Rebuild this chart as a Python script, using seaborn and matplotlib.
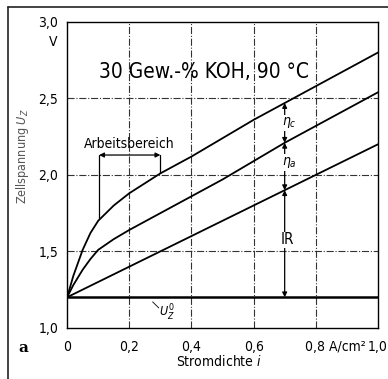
import matplotlib
matplotlib.use('Agg')
import matplotlib.pyplot as plt
import seaborn as sns
import pandas as pd

# Stromdichte i in A/cm2 und Zellspannungen in V
i_vals = [0, 0.02, 0.05, 0.075, 0.1, 0.15, 0.2, 0.3, 0.4, 0.5, 0.6, 0.7, 0.8, 0.9, 1.0]
u_total = [1.2, 1.34, 1.51, 1.62, 1.70, 1.80, 1.88, 2.01, 2.12, 2.24, 2.36, 2.47, 2.58, 2.69, 2.80]
u_anode = [1.2, 1.28, 1.38, 1.45, 1.51, 1.58, 1.64, 1.75, 1.86, 1.97, 2.09, 2.21, 2.32, 2.43, 2.54]
u_ir = [1.2, 1.22, 1.25, 1.275, 1.30, 1.35, 1.40, 1.50, 1.60, 1.70, 1.80, 1.90, 2.00, 2.10, 2.20]
u_rev = [1.2, 1.2, 1.2, 1.2, 1.2, 1.2, 1.2, 1.2, 1.2, 1.2, 1.2, 1.2, 1.2, 1.2, 1.2]

x_ticks = [0, 0.2, 0.4, 0.6, 0.8, 1.0]
x_ticklabels = ['0', '0,2', '0,4', '0,6', '', '1,0']
y_ticks = [1.0, 1.5, 2.0, 2.5, 3.0]
y_ticklabels = ['1,0', '1,5', '2,0', '2,5', '3,0']

sns.set_style('white')
plt.rcParams['font.family'] = ['DejaVu Sans']
plt.rcParams['font.stretch'] = 'condensed'
plt.rcParams['mathtext.fontset'] = 'dejavusans'
plt.rcParams['text.color'] = 'black'
plt.rcParams['xtick.color'] = 'black'
plt.rcParams['ytick.color'] = 'black'

df = pd.DataFrame({'i': i_vals, 'total': u_total, 'anode': u_anode,
                   'ir': u_ir, 'rev': u_rev})

fig = plt.figure(figsize=(3.88, 3.79), dpi=100)
ax = fig.add_axes([0.173, 0.135, 0.801, 0.807])

# Gitterlinien
for gx in [0.2, 0.4, 0.6, 0.8]:
    ax.axvline(gx, color='#333333', lw=0.8, ls='-.', zorder=1)
for gy in [1.5, 2.0, 2.5]:
    ax.axhline(gy, color='#333333', lw=0.8, ls='-.', zorder=1)

sns.lineplot(data=df, x='i', y='total', color='black', lw=1.3, ax=ax, zorder=3)
sns.lineplot(data=df, x='i', y='anode', color='black', lw=1.3, ax=ax, zorder=3)
sns.lineplot(data=df, x='i', y='ir', color='black', lw=1.3, ax=ax, zorder=3)
sns.lineplot(data=df, x='i', y='rev', color='black', lw=1.8, ax=ax, zorder=3)

ax.set_xlim(0, 1.0)
ax.set_ylim(1.0, 3.0)
ax.set_xticks(x_ticks)
ax.set_xticklabels(x_ticklabels)
ax.set_yticks(y_ticks)
ax.set_yticklabels(y_ticklabels)
ax.tick_params(axis='both', labelsize=10, length=3, direction='out')
ax.tick_params(axis='x', pad=6)
ax.set_xlabel('')
ax.set_ylabel('')
for s in ax.spines.values():
    s.set_color('black')
    s.set_linewidth(1.0)

# Beschriftung 0,8 mit Einheit
ax.text(0.765, -0.041, '0,8 A/cm²', transform=ax.get_xaxis_transform(), ha='left', va='top',
        fontsize=10, clip_on=False)
ax.text(-0.03, 2.87, 'V', ha='right', va='center', fontsize=10)
ax.text(0.49, -0.085, 'Stromdichte $i$', transform=ax.get_xaxis_transform(),
        ha='center', va='top', fontsize=10)
ax.text(-0.145, 0.56, 'Zellspannung $U_Z$', transform=ax.transAxes, rotation=90,
        ha='center', va='center', fontsize=9, color='#555555')
ax.text(-0.14, -0.065, 'a', transform=ax.transAxes, ha='center', va='center',
        fontsize=11, fontweight='bold', family='DejaVu Serif', fontstretch='normal')

ax.text(0.44, 2.67, '30 Gew.-% KOH, 90 °C', ha='center', va='center', fontsize=15)

# Arbeitsbereich
ax.plot([0.103, 0.103], [1.72, 2.13], color='black', lw=0.9, zorder=2)
ax.plot([0.30, 0.30], [2.01, 2.13], color='black', lw=0.9, zorder=2)
ax.annotate('', xy=(0.103, 2.13), xytext=(0.30, 2.13),
            arrowprops=dict(arrowstyle='<|-|>', color='black', lw=0.9,
                            mutation_scale=7, shrinkA=0, shrinkB=0))
ax.text(0.2, 2.20, 'Arbeitsbereich', ha='center', va='center', fontsize=10)

# Überspannungen
xa = 0.70
for y0, y1 in [(u_total[11], u_anode[11]), (u_anode[11], u_ir[11]), (u_ir[11], u_rev[11])]:
    ax.annotate('', xy=(xa, y1), xytext=(xa, y0),
                arrowprops=dict(arrowstyle='<|-|>', color='black', lw=0.9,
                                mutation_scale=7, shrinkA=0, shrinkB=0), zorder=4)
box = dict(facecolor='white', edgecolor='none', pad=0.5)
ax.text(xa + 0.015, 2.34, r'$\eta_c$', ha='center', va='center', fontsize=10, bbox=box, zorder=5)
ax.text(xa + 0.015, 2.08, r'$\eta_a$', ha='center', va='center', fontsize=10, bbox=box, zorder=5)
ax.text(xa + 0.01, 1.575, 'IR', ha='center', va='center', fontsize=11, bbox=box, zorder=5)

ax.plot([0.275, 0.295], [1.17, 1.13], color='black', lw=0.6)
ax.text(0.32, 1.10, r'$U_Z^0$', ha='center', va='center', fontsize=9)

# Rahmen
fig.add_artist(plt.Line2D([8 / 388, 8 / 388], [0, 1 - 7 / 379], color='#222222', lw=1.2))
fig.add_artist(plt.Line2D([8 / 388, 1], [1 - 7 / 379, 1 - 7 / 379], color='#222222', lw=1.2))

fig.savefig('out.png', dpi=100)
